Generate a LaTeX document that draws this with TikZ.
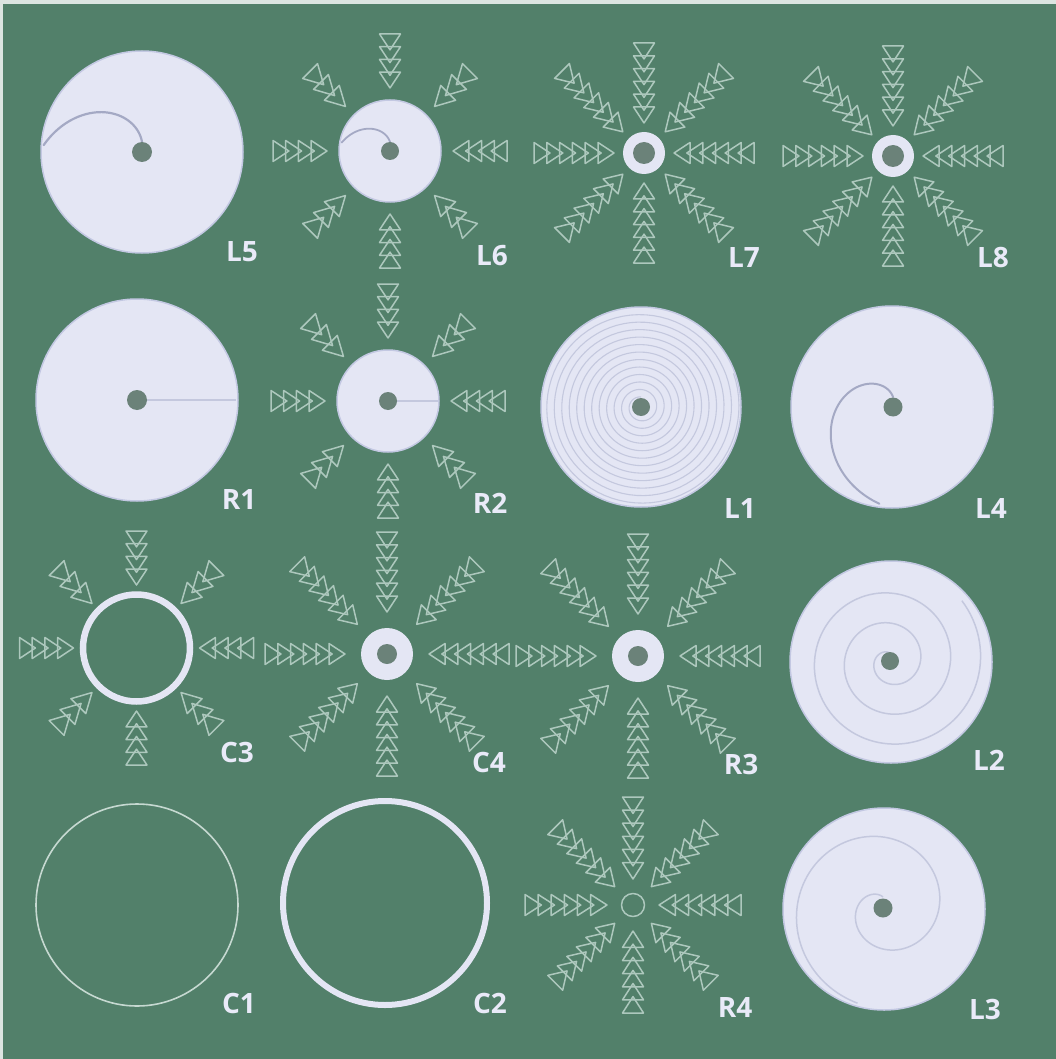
\documentclass[tikz,border=0pt]{standalone}
\usepackage{fontspec}
\setmainfont{Open Sans}
\definecolor{bg}{HTML}{52806A}
\definecolor{disk}{HTML}{E4E6F4}
\definecolor{diskedge}{HTML}{C3C8E2}
\definecolor{dot}{HTML}{6B8279}
\definecolor{spir}{HTML}{A4A9C4}
\definecolor{spirfaint}{HTML}{C4C8DE}
\definecolor{arr}{HTML}{ADC8BD}
\definecolor{lbl}{HTML}{E9EAF8}
\tikzset{
  arrowline/.style={draw=arr, line width=1.5pt, line join=round},
  diskfill/.style={fill=disk, draw=diskedge, line width=1.5pt},
  centerdot/.style={fill=dot},
  spiralline/.style={draw=spir, line width=2.2pt, line cap=round},
  faintline/.style={draw=spirfaint, line width=1.3pt},
  lab/.style={text=lbl, font=\fontsize{28}{30}\selectfont\bfseries, inner sep=0pt, anchor=center},
}
% one arrow: cx, cy, angle, dtip, dout, n
\newcommand{\onearrow}[6]{%
  \begin{scope}[shift={(#1,#2)}, rotate=#3]
    \pgfmathsetmacro\tl{(#5-#4)/(0.8*(#6-1)+1)}
    \pgfmathsetmacro\spc{0.8*\tl}
    \foreach \i in {1,...,#6}{
      \pgfmathsetmacro\xb{#5-(\i-1)*\spc}
      \draw[arrowline] (\xb,-10.5) -- (\xb-\tl,0) -- (\xb,10.5) -- cycle;
    }
  \end{scope}}
% star: cx, cy, dtip, dout straight, n straight, dout diag, n diag
\newcommand{\arrowstar}[7]{%
  \foreach \ang in {0,90,180,270}{\onearrow{#1}{#2}{\ang}{#3}{#4}{#5}}%
  \foreach \ang in {45,135,225,315}{\onearrow{#1}{#2}{\ang}{#3}{#6}{#7}}}
\begin{document}
\begin{tikzpicture}[x=1pt,y=-1pt]
\useasboundingbox (0,0) rectangle (1056,1059);
\fill[bg] (0,0) rectangle (1056,1059);
\fill[white!80!bg] (0,0) rectangle (1056,4);
\fill[white!80!bg] (0,0) rectangle (3,1059);

% ---------- Row 1 ----------
% L5
\fill[diskfill] (142,152) circle (101);
\draw[spiralline] plot[domain=0:86, samples=60, variable=\t] ({142-(10+1.03*\t)*sin(\t)}, {152-(10+1.03*\t)*cos(\t)});
\fill[centerdot] (142,152) circle (10);
\node[lab] (L5) at (242,252) {L5};
% L6
\arrowstar{390}{151}{63}{117}{4}{113}{3}
\fill[diskfill] (390,151) circle (51);
\draw[spiralline, line width=1.8pt] plot[domain=0:80, samples=50, variable=\t] ({390-(9+0.5*\t)*sin(\t)}, {151-(9+0.5*\t)*cos(\t)});
\fill[centerdot] (390,151) circle (9);
\node[lab] (L6) at (492,256) {L6};
% L7
\arrowstar{644}{153}{30}{110}{6}{116}{6}
\fill[disk] (644,153) circle (21);
\fill[centerdot] (644,153) circle (11);
\node[lab] (L7) at (744,258) {L7};
% L8
\arrowstar{893}{156}{30}{110}{6}{116}{6}
\fill[disk] (893,156) circle (21);
\fill[centerdot] (893,156) circle (11);
\node[lab] (L8) at (993,258) {L8};

% ---------- Row 2 ----------
% R1
\fill[diskfill] (137,400) circle (101);
\draw[faintline] (137,400) -- (236,400);
\fill[centerdot] (137,400) circle (10);
\node[lab] (R1) at (239,500) {R1};
% R2
\arrowstar{388}{401}{63}{117}{4}{113}{3}
\fill[diskfill] (388,401) circle (51);
\draw[faintline] (388,401) -- (438,401);
\fill[centerdot] (388,401) circle (9);
\node[lab] (R2) at (490,503) {R2};
% L1
\fill[diskfill] (641,407) circle (100);
\draw[faintline, line width=1.1pt] plot[domain=0:4250, samples=900, variable=\t] ({641-(10+0.0208*\t)*sin(\t)}, {407-(10+0.0208*\t)*cos(\t)});
\fill[centerdot] (641,407) circle (9);
\node[lab] (L1) at (740,509) {L1};
% L4
\fill[diskfill] (892,407) circle (101);
\draw[spiralline, line width=2pt] plot[domain=0:172, samples=80, variable=\t] ({893-(10+0.51*\t)*sin(\t)}, {407-(10+0.51*\t)*cos(\t)});
\fill[centerdot] (893,407) circle (9.5);
\node[lab] (L4) at (991,509) {L4};

% ---------- Row 3 ----------
% C3
\arrowstar{136.5}{648}{63}{117}{4}{113}{3}
\draw[draw=disk, line width=6.5pt] (136.5,648) circle (53.5);
\node[lab] (C3) at (237,752) {C3};
% C4
\arrowstar{387}{654}{42}{122}{6}{127}{6}
\fill[disk] (387,654) circle (26);
\fill[centerdot] (387,654) circle (10);
\node[lab] (C4) at (489,762) {C4};
% R3
\arrowstar{638}{656}{42}{122}{6}{127}{6}
\fill[disk] (638,656) circle (26);
\fill[centerdot] (638,656) circle (10);
\node[lab] (R3) at (741,764) {R3};
% L2
\fill[diskfill] (891,662) circle (101);
\draw[faintline, line width=1.5pt] plot[domain=0:1030, samples=300, variable=\t] ({890-(8+0.0833*\t)*sin(\t)}, {661-(8+0.0833*\t)*cos(\t)});
\fill[centerdot] (890,661) circle (9);
\node[lab] (L2) at (989,760) {L2};

% ---------- Row 4 ----------
% C1
\draw[draw=arr!70!white, line width=1.6pt] (137,905) circle (101);
\node[lab] (C1) at (239,1003) {C1};
% C2
\draw[draw=disk, line width=6pt] (385,903) circle (102);
\node[lab] (C2) at (490,1003) {C2};
% R4
\arrowstar{633}{905}{26}{108}{6}{110}{6}
\draw[arrowline] (633,905) circle (11.5);
\node[lab] (R4) at (735,1007) {R4};
% L3
\fill[diskfill] (884,909) circle (101);
\draw[faintline, line width=1.5pt] plot[domain=0:525, samples=200, variable=\t] ({883-(11+0.1667*\t)*sin(\t)}, {908-(11+0.1667*\t)*cos(\t)});
\fill[centerdot] (883,908) circle (9.5);
\node[lab] (L3) at (985,1009) {L3};
\end{tikzpicture}
\end{document}
